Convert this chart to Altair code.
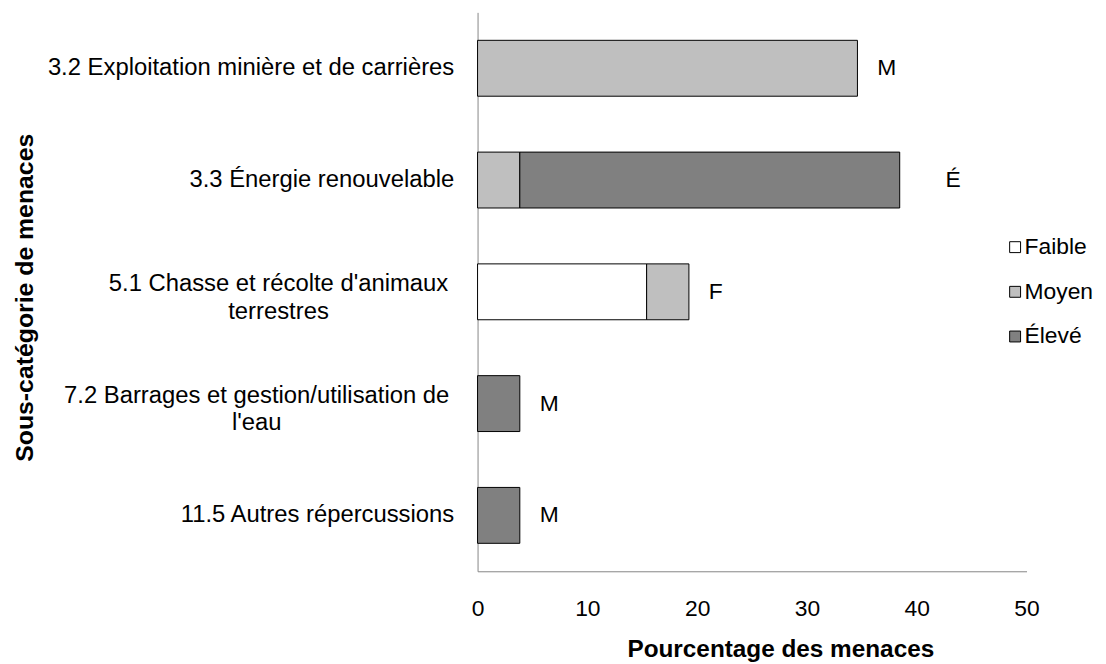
import altair as alt
import pandas as pd

# ---- data ----
categories = [
    "3.2 Exploitation minière et de carrières",
    "3.3 Énergie renouvelable",
    "5.1 Chasse et récolte d'animaux|terrestres",
    "7.2 Barrages et gestion/utilisation de|l'eau",
    "11.5 Autres répercussions",
]
levels = ["Faible", "Moyen", "Élevé"]
faible = [0, 0, 15.4, 0, 0]
moyen = [34.6, 3.85, 3.85, 0, 0]
eleve = [0, 34.6, 0, 3.85, 3.85]
bar_labels = ["M", "É", "F", "M", "M"]
x_ticks = [0, 10, 20, 30, 40, 50]
level_colors = ["#ffffff", "#bfbfbf", "#808080"]

FONT = "Liberation Sans"

rows = []
for i, cat in enumerate(categories):
    for k, (lvl, series) in enumerate(zip(levels, [faible, moyen, eleve])):
        if series[i] > 0:
            rows.append({"category": cat, "level": lvl, "value": series[i], "ord": k})
df = pd.DataFrame(rows)

lab_df = pd.DataFrame({
    "category": categories,
    "value": [a + b + c for a, b, c in zip(faible, moyen, eleve)],
    "label": bar_labels,
})

wrapped = "indexof(datum.value, '|') >= 0"
y_label_align = {"condition": {"test": wrapped, "value": "center"}, "value": "right"}
y_label_offset = {"condition": {"test": wrapped, "value": -8}, "value": 0}
y_label_padding = {
    "condition": [
        {"test": "indexof(datum.value, '5.1') == 0", "value": 201},
        {"test": "indexof(datum.value, '7.2') == 0", "value": 223},
    ],
    "value": 24,
}

y_scale = alt.Scale(paddingInner=0.5, paddingOuter=0.25)
x_scale = alt.Scale(domain=[0, 50], nice=False)

x_axis = alt.Axis(
    values=x_ticks,
    title="Pourcentage des menaces",
    grid=False,
    ticks=False,
    domainColor="#868686",
    domainWidth=1,
    labelFontSize=23,
    labelPadding=27,
    labelFlush=False,
    labelOverlap=False,
    titleFontSize=24.5,
    titleFontWeight="bold",
    titleX=305,
    titleY=86,
    titleAlign="center",
    titleBaseline="alphabetic",
)
y_axis = alt.Axis(
    title="Sous-catégorie de menaces",
    ticks=False,
    grid=False,
    domainColor="#868686",
    domainWidth=1,
    labelFontSize=24,
    labelExpr="split(datum.label, '|')",
    labelAlign=y_label_align,
    labelPadding=y_label_padding,
    labelOffset=y_label_offset,
    labelBaseline="middle",
    labelLineHeight=28,
    labelLimit=0,
    titleFontSize=25,
    titleFontWeight="bold",
    titleAngle=270,
    titleX=-448,
    titleY=287,
    titleAlign="center",
    titleBaseline="alphabetic",
)

bars = alt.Chart(df).mark_bar(stroke="black", strokeWidth=1).encode(
    x=alt.X("value:Q", stack="zero", scale=x_scale, axis=x_axis),
    y=alt.Y("category:N", sort=categories, scale=y_scale, axis=y_axis),
    color=alt.Color(
        "level:N",
        scale=alt.Scale(domain=levels, range=level_colors),
        legend=alt.Legend(
            title=None,
            orient="none",
            legendX=530,
            legendY=225,
            padding=0,
            symbolType="square",
            symbolSize=121,
            symbolStrokeColor="black",
            symbolStrokeWidth=1,
            labelFontSize=23,
            labelOffset={"expr": "-2"},
            rowPadding=21,
        ),
    ),
    order=alt.Order("ord:Q"),
)

text_base = alt.Chart(lab_df).encode(
    x=alt.X("value:Q", scale=x_scale, axis=x_axis),
    y=alt.Y("category:N", sort=categories, scale=y_scale, axis=y_axis),
    text="label:N",
)
texts = text_base.transform_filter("datum.label != 'É'").mark_text(
    align="left", baseline="middle", dx=20, fontSize=23, color="black"
)
texts_e = text_base.transform_filter("datum.label == 'É'").mark_text(
    align="left", baseline="middle", dx=46, fontSize=23, color="black"
)

chart = (
    alt.layer(bars, texts, texts_e)
    .properties(
        width=553,
        height=563,
        autosize=alt.AutoSizeParams(type="none"),
        padding={"left": 473, "top": 2, "right": 72, "bottom": 90},
    )
    .configure(font=FONT)
    .configure_view(stroke=None)
    .configure_axis(labelFont=FONT, titleFont=FONT, labelColor="black", titleColor="black")
    .configure_legend(labelFont=FONT, labelColor="black")
    .configure_text(font=FONT)
)

chart.save("out.html", embed_options={"renderer": "svg", "actions": False})
